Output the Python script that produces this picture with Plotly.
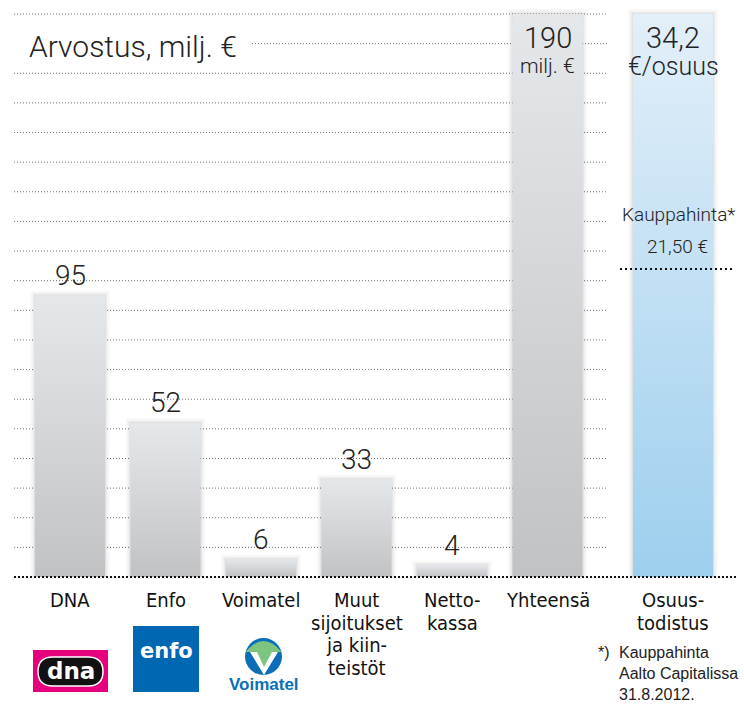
import plotly.graph_objects as go

# ---------------- data ----------------
categories = ["DNA", "Enfo", "Voimatel", "Muut<br>sijoitukset<br>ja kiin-<br>teistöt", "Netto-<br>kassa", "Yhteensä"]
values = [95, 52, 6, 33, 4, 190]
value_labels = ["95", "52", "6", "33", "4", "190"]
total_unit = "milj. €"
share_category = "Osuus-<br>todistus"
share_value_label = "34,2"
share_unit = "€/osuus"
price_title = "Kauppahinta*"
price_label = "21,50 €"
footnote_lines = ["*)", "Kauppahinta", "Aalto Capitalissa", "31.8.2012."]
title_text = "Arvostus, milj. €"
grid_values = list(range(10, 200, 10))

# ---------------- geometry helpers ----------------
W, H = 744, 704
BASE_PX, TOP_PX = 577, 14
YS = (BASE_PX - TOP_PX) / 190.0          # px per unit
X0_PX, XS = 70, 95.5                      # px of first bar centre, px per category
x_range = [-X0_PX / XS, (W - X0_PX) / XS]
y_range = [-(H - BASE_PX) / YS, BASE_PX / YS]

def xd(px):
    return (px - X0_PX) / XS

def yd(py):
    return (BASE_PX - py) / YS

bar_w = 70 / XS
share_x = xd(673)
share_w = 80 / XS
share_height = values[-1]          # per-share bar drawn at full (total) height
price_level = yd(269)

NUM_FONT = "Roboto, 'Liberation Sans', sans-serif"
COND_FONT = "'DejaVu Sans Condensed', 'Liberation Sans Narrow', sans-serif"

fig = go.Figure()

def bar_poly(xc, w, h, colors, name):
    xs = [xc - w / 2, xc + w / 2, xc + w / 2, xc - w / 2, xc - w / 2]
    ys = [0, 0, h, h, 0]
    # soft shadow
    for k, a in [(5, 0.02), (3.5, 0.025), (2, 0.035), (1, 0.04)]:
        dx, dy = k / XS, k / YS
        fig.add_trace(go.Scatter(
            x=[xc - w / 2 - dx, xc + w / 2 + dx, xc + w / 2 + dx, xc - w / 2 - dx, xc - w / 2 - dx],
            y=[0, 0, h + dy, h + dy, 0], fill="toself", mode="lines",
            line=dict(width=0), fillcolor=f"rgba(0,0,0,{a})", hoverinfo="skip", showlegend=False))
    fig.add_trace(go.Scatter(
        x=xs, y=ys, fill="toself", mode="lines", line=dict(width=0),
        fillgradient=dict(type="vertical", colorscale=[[0, colors[0]], [1, colors[1]]]),
        name=name, hoverinfo="skip", showlegend=False))

for i, (c, v) in enumerate(zip(categories, values)):
    bar_poly(i, bar_w, v, ("#c1c2c4", "#e5e8eb"), c)

bar_poly(share_x, share_w, share_height, ("#9dcfee", "#e3eff9"), share_category)

# ---------------- gridlines ----------------
shapes = []
for g in grid_values:
    x_start = xd(252) if g == 180 else xd(14)
    shapes.append(dict(type="line", xref="x", yref="y", x0=x_start, x1=xd(607), y0=g, y1=g,
                       line=dict(color="#6e6e6e", width=1, dash="1px,2px"), layer="below"))
# baseline
shapes.append(dict(type="line", xref="x", yref="y", x0=xd(14), x1=xd(737), y0=0, y1=0,
                   line=dict(color="#111", width=2.2, dash="2px,2px"), layer="above"))
# price line
shapes.append(dict(type="line", xref="x", yref="y", x0=xd(620), x1=xd(734), y0=price_level, y1=price_level,
                   line=dict(color="#111", width=2.2, dash="2px,3px"), layer="above"))

annotations = []

def ann(text, x, y, size, font=NUM_FONT, color="#222", xanchor="center", yanchor="middle", align="center", **kw):
    annotations.append(dict(text=text, x=x, y=y, xref="x", yref="y", showarrow=False,
                            font=dict(family=font, size=size, color=color, **kw),
                            xanchor=xanchor, yanchor=yanchor, align=align))

# title
ann(title_text, xd(27), yd(46), 30, xanchor="left", weight=300)

# value labels
for i, (v, lab) in enumerate(zip(values[:-1], value_labels[:-1])):
    ann(lab, i, v + 20 / YS, 28, weight=300)
ann(value_labels[-1], len(values) - 1, yd(38), 29, weight=300)
ann(total_unit, len(values) - 1, yd(66), 21, weight=300)
ann(share_value_label, share_x, yd(38), 29, weight=300)
ann(share_unit, share_x, yd(66), 25, weight=300)
ann(price_title, xd(678), yd(214), 19, weight=300)
ann(price_label, xd(677), yd(246), 19, weight=300)

# category labels (one annotation per printed line)
LINE_H = 22.7
def cat_label(text, x):
    for k, line in enumerate(text.split("<br>")):
        ann(line, x, yd(600 + k * LINE_H), 20, font=COND_FONT, color="#111")

for i, c in enumerate(categories):
    cat_label(c, i)
cat_label(share_category, share_x)

# footnote
FN_FONT = "'Liberation Sans', Arial, sans-serif"
ann(footnote_lines[0], xd(596), yd(652), 16, font=FN_FONT, xanchor="left")
for k, line in enumerate(footnote_lines[1:]):
    ann(line, xd(617), yd(652 + k * 21), 16, font=FN_FONT, xanchor="left")

# ---------------- logos (decorative) ----------------
# DNA
shapes.append(dict(type="rect", xref="x", yref="y", x0=xd(33), x1=xd(108), y0=yd(692), y1=yd(650),
                   fillcolor="#e6007e", line=dict(width=0)))
r = 14
pill = (f"M {xd(39 + r)},{yd(657)} L {xd(102 - r)},{yd(657)} "
        f"Q {xd(103)},{yd(657)} {xd(103)},{yd(671.5)} Q {xd(103)},{yd(686)} {xd(102 - r)},{yd(686)} "
        f"L {xd(39 + r)},{yd(686)} Q {xd(38)},{yd(686)} {xd(38)},{yd(671.5)} Q {xd(38)},{yd(657)} {xd(39 + r)},{yd(657)} Z")
shapes.append(dict(type="path", xref="x", yref="y", path=pill, fillcolor="#111", line=dict(color="#fff", width=1.5)))
ann("<b>dna</b>", xd(70.5), yd(671), 23, font="'DejaVu Sans', sans-serif", color="#fff")
# Enfo
shapes.append(dict(type="rect", xref="x", yref="y", x0=xd(133), x1=xd(199), y0=yd(692), y1=yd(626),
                   fillcolor="#0068b3", line=dict(width=0)))
ann("<b>enfo</b>", xd(166), yd(651), 21, font="'DejaVu Sans', sans-serif", color="#fff")
# Voimatel
shapes.append(dict(type="circle", xref="x", yref="y", x0=xd(245), x1=xd(282), y0=yd(675), y1=yd(638),
                   fillcolor="#0a6fb7", line=dict(width=0)))
shapes.append(dict(type="path", xref="x", yref="y",
                   path=f"M {xd(245.5)},{yd(652)} Q {xd(263.5)},{yd(630)} {xd(281.5)},{yd(652)} L {xd(273)},{yd(652)} L {xd(264)},{yd(670)} L {xd(255)},{yd(652)} Z",
                   fillcolor="#7cc47f", line=dict(width=0)))
shapes.append(dict(type="path", xref="x", yref="y",
                   path=f"M {xd(250)},{yd(652)} L {xd(257)},{yd(652)} L {xd(264)},{yd(667)} L {xd(272)},{yd(652)} L {xd(278)},{yd(652)} L {xd(264)},{yd(675)} Z",
                   fillcolor="#ffffff", line=dict(width=0)))
ann("<b>Voimatel</b>", xd(264), yd(684), 17, font="'Liberation Sans', Arial, sans-serif", color="#0a6fb7")

fig.update_layout(
    width=W, height=H, margin=dict(l=0, r=0, t=0, b=0),
    paper_bgcolor="white", plot_bgcolor="white",
    xaxis=dict(range=x_range, visible=False, fixedrange=True),
    yaxis=dict(range=y_range, visible=False, fixedrange=True),
    shapes=shapes, annotations=annotations, showlegend=False,
)

fig.write_html("out.html")
